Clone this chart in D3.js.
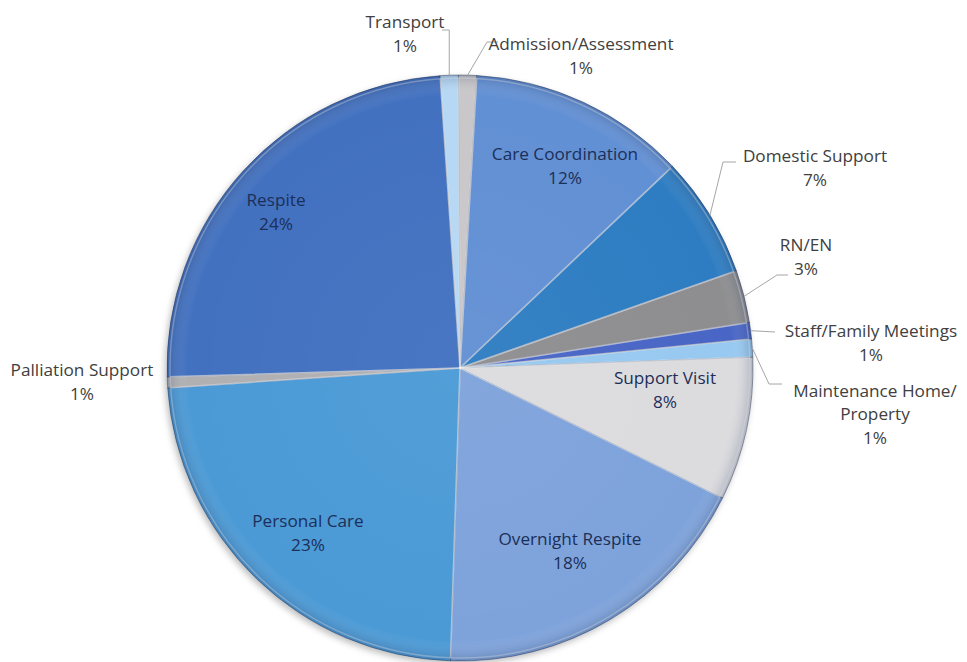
<!DOCTYPE html>
<html>
<head>
<meta charset="utf-8">
<script src="https://cdn.jsdelivr.net/npm/d3@7"></script>
<style>
	html, body { margin: 0; padding: 0; background: #ffffff; }
	svg text { font-family: "Open Sans", "Noto Sans", sans-serif; font-size: 17.2px; }
</style>
</head>
<body>
<div id="chart"></div>
<script>
// slices, clockwise from the top
const categories = [
	'Admission/Assessment', 'Care Coordination', 'Domestic Support', 'RN/EN',
	'Staff/Family Meetings', 'Maintenance Home/Property', 'Support Visit',
	'Overnight Respite', 'Personal Care', 'Palliation Support', 'Respite', 'Transport'
];
const shares = [1.0, 12.0, 6.7, 2.9, 0.9, 1.0, 7.9, 18.2, 23.4, 0.6, 24.4, 1.0];
const sliceColors = [
	'#c9c7c9', '#6290d4', '#2f7dc2', '#8e8e90',
	'#4a66c6', '#98c9f0', '#dcdcdf',
	'#7ea3db', '#4b9ad6', '#b0b0b2', '#4371c0', '#b6d8f4'
];
// label lines per slice (the last line gets the percentage)
const labelLines = {
	'Maintenance Home/Property': ['Maintenance Home/', 'Property']
};

const width = 967, height = 662;
const cx = 460, cy = 368, radius = 293;
const startDeg = -0.3;
const lineGap = 23.5;

// label block centres; outside ones also get a leader line elbow/end
const labelPos = {
	'Transport':                 { x: 405, y: 34,  out: true, elbow: null,       end: [442, 30] },
	'Admission/Assessment':      { x: 581, y: 56,  out: true, elbow: [487, 42],  end: [498, 42] },
	'Domestic Support':          { x: 815, y: 168, out: true, elbow: [723, 162], end: [736, 162] },
	'RN/EN':                     { x: 806, y: 257, out: true, elbow: [777, 275], end: [788, 275] },
	'Staff/Family Meetings':     { x: 871, y: 343, out: true, elbow: null,       end: [775, 332] },
	'Maintenance Home/Property': { x: 875, y: 414, out: true, elbow: [769, 384], end: [782, 384] },
	'Palliation Support':        { x: 82,  y: 382, out: true, elbow: null,       end: null },
	'Care Coordination':         { x: 565, y: 166 },
	'Support Visit':             { x: 665, y: 390 },
	'Overnight Respite':         { x: 570, y: 551 },
	'Personal Care':             { x: 308, y: 533 },
	'Respite':                   { x: 276, y: 212 }
};

const data = categories.map((c, i) => ({ name: c, value: shares[i], color: sliceColors[i] }));

const svg = d3.select('#chart').append('svg')
	.attr('width', width)
	.attr('height', height);

var defs = svg.append('defs');
var shadow = defs.append('filter').attr('id', 'shadow')
	.attr('x', '-10%').attr('y', '-10%').attr('width', '120%').attr('height', '120%');
shadow.append('feDropShadow')
	.attr('dx', -2).attr('dy', 3).attr('stdDeviation', 3)
	.attr('flood-color', '#000').attr('flood-opacity', 0.25);

// soft darkening towards the rim for a bevelled look
var rim = defs.append('radialGradient').attr('id', 'rim')
	.attr('gradientUnits', 'userSpaceOnUse')
	.attr('cx', 0).attr('cy', 0).attr('r', radius);
rim.append('stop').attr('offset', '0%').attr('stop-color', '#ffffff').attr('stop-opacity', 0.04);
rim.append('stop').attr('offset', '93%').attr('stop-color', '#ffffff').attr('stop-opacity', 0);
rim.append('stop').attr('offset', '100%').attr('stop-color', '#1a2a50').attr('stop-opacity', 0.22);

const start = startDeg * Math.PI / 180;
const pie = d3.pie().sort(null).value(d => d.value)
	.startAngle(start).endAngle(start + 2 * Math.PI);
const arcs = pie(data);

const arc = d3.arc().innerRadius(0).outerRadius(radius);
const edgeArc = d3.arc().innerRadius(radius).outerRadius(radius);
const highlightArc = d3.arc().innerRadius(0).outerRadius(radius - 3);

var g = svg.append('g').attr('transform', 'translate(' + cx + ',' + cy + ')');
var pieG = g.append('g').attr('filter', 'url(#shadow)');

pieG.selectAll('path.slice')
	.data(arcs)
	.enter()
	.append('path')
		.attr('class', 'slice')
		.attr('d', arc)
		.attr('fill', d => d.data.color)
		.attr('stroke', 'rgba(40,50,80,0.45)')
		.attr('stroke-width', 1);

// inner light edge
g.selectAll('path.hl')
	.data(arcs)
	.enter()
	.append('path')
		.attr('class', 'hl')
		.attr('d', highlightArc)
		.attr('fill', 'none')
		.attr('stroke', 'rgba(255,255,255,0.35)')
		.attr('stroke-width', 1.5);

g.append('circle').attr('r', radius).attr('fill', 'url(#rim)');

// leader lines
var leaders = g.append('g');
arcs.forEach(d => {
	var o = labelPos[d.data.name];
	if (!o.out || !o.end) return;
	var p = edgeArc.centroid(d);
	var pts = [[p[0] + cx, p[1] + cy]];
	if (d.data.name === 'Transport')
		pts.push([pts[0][0], o.end[1]]);
	if (o.elbow) pts.push(o.elbow);
	pts.push(o.end);
	leaders.append('polyline')
		.attr('points', pts.map(q => (q[0] - cx) + ',' + (q[1] - cy)).join(' '))
		.attr('fill', 'none')
		.attr('stroke', '#a6a6a6')
		.attr('stroke-width', 1);
});

// labels
var fmt = v => Math.round(v) + '%';
var labelG = svg.append('g');
arcs.forEach(d => {
	var lines = (labelLines[d.data.name] || [d.data.name]).concat([fmt(d.data.value)]);
	var o = labelPos[d.data.name];
	var top = o.y - (lines.length - 1) * lineGap / 2;
	var t = labelG.append('text')
		.attr('text-anchor', 'middle')
		.attr('fill', o.out ? '#404040' : '#1c2f58');
	lines.forEach((l, i) => {
		t.append('tspan')
			.attr('x', o.x)
			.attr('y', top + i * lineGap)
			.attr('dy', '0.35em')
			.text(l);
	});
});
</script>
</body>
</html>
